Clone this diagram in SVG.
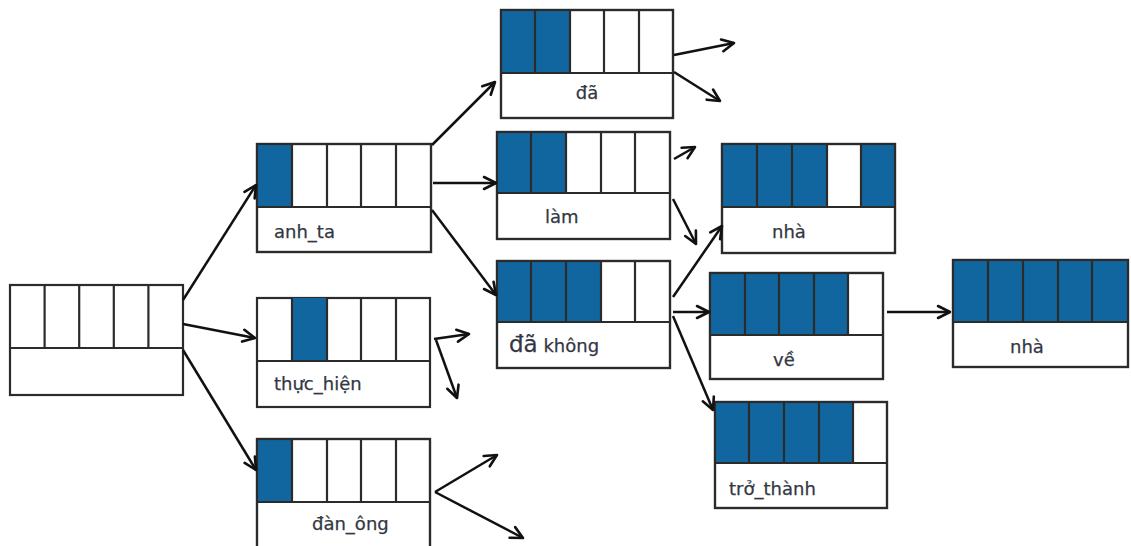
<svg xmlns="http://www.w3.org/2000/svg" width="1131" height="546" viewBox="0 0 1131 546">
  <style>
    .box { fill: #ffffff; stroke: #2b2b2b; stroke-width: 2.2; }
    .frame { fill: none; stroke: #2b2b2b; stroke-width: 2.2; }
    .on { fill: #11669f; }
    .sep { stroke: #2b2b2b; stroke-width: 2.2; fill: none; }
    .lbl { font-family: "DejaVu Sans", "Liberation Sans", sans-serif; font-size: 18px; fill: #333744; stroke: #333744; stroke-width: 0.25; }
    .big { font-size: 23px; }
    .edge { stroke: #111111; stroke-width: 2.5; fill: none; marker-end: url(#arrow); }
  </style>
  <defs>
    <marker id="arrow" viewBox="0 0 16 16" refX="14" refY="8" markerWidth="16" markerHeight="16" markerUnits="userSpaceOnUse" orient="auto">
      <path d="M2,2 L14,8 L2,14" fill="none" stroke="#111111" stroke-width="2.6" stroke-linecap="round" stroke-linejoin="round"/>
    </marker>
  </defs>
  <rect width="1131" height="546" fill="#ffffff"/>

  <!-- root record -->
  <g id="root">
    <rect class="box" x="10" y="285" width="173" height="110"/>
    <path class="sep" d="M10,348 H183 M44.6,285 V348 M79.2,285 V348 M113.8,285 V348 M148.4,285 V348"/>
  </g>

  <g id="anh_ta">
    <rect class="box" x="257" y="144" width="174" height="108"/>
    <rect class="on" x="257" y="144" width="35" height="63"/>
    <path class="sep" d="M257,207 H431 M292,144 V207 M327,144 V207 M361,144 V207 M396,144 V207"/>
    <rect class="frame" x="257" y="144" width="174" height="108"/>
    <text class="lbl" x="274" y="238">anh_ta</text>
  </g>

  <g id="thuc_hien">
    <rect class="box" x="257" y="298" width="173" height="109"/>
    <rect class="on" x="292" y="298" width="35" height="63"/>
    <path class="sep" d="M257,361 H430 M292,298 V361 M327,298 V361 M361,298 V361 M396,298 V361"/>
    <text class="lbl" x="274" y="390">thực_hiện</text>
  </g>

  <g id="dan_ong">
    <rect class="box" x="257" y="439" width="173" height="112"/>
    <rect class="on" x="257" y="439" width="35" height="63"/>
    <path class="sep" d="M257,502 H430 M292,439 V502 M327,439 V502 M361,439 V502 M396,439 V502"/>
    <rect class="frame" x="257" y="439" width="173" height="112"/>
    <text class="lbl" x="312" y="530">đàn_ông</text>
  </g>

  <g id="da">
    <rect class="box" x="501" y="10" width="172" height="108"/>
    <rect class="on" x="501" y="10" width="69" height="63"/>
    <path class="sep" d="M501,73 H673 M535,10 V73 M570,10 V73 M604,10 V73 M639,10 V73"/>
    <rect class="frame" x="501" y="10" width="172" height="108"/>
    <text class="lbl" x="587" y="99" text-anchor="middle">đã</text>
  </g>

  <g id="lam">
    <rect class="box" x="497" y="132" width="173" height="107"/>
    <rect class="on" x="497" y="132" width="69" height="61"/>
    <path class="sep" d="M497,193 H670 M531,132 V193 M566,132 V193 M601,132 V193 M635,132 V193"/>
    <rect class="frame" x="497" y="132" width="173" height="107"/>
    <text class="lbl" x="545" y="223">làm</text>
  </g>

  <g id="da_khong">
    <rect class="box" x="497" y="261" width="173" height="107"/>
    <rect class="on" x="497" y="261" width="104" height="61"/>
    <path class="sep" d="M497,322 H670 M531,261 V322 M566,261 V322 M601,261 V322 M635,261 V322"/>
    <rect class="frame" x="497" y="261" width="173" height="107"/>
    <text class="lbl" x="509" y="352"><tspan class="big">đã</tspan> không</text>
  </g>

  <g id="nha_1">
    <rect class="box" x="722" y="144" width="173" height="109"/>
    <rect class="on" x="722" y="144" width="105" height="63"/>
    <rect class="on" x="861" y="144" width="34" height="63"/>
    <path class="sep" d="M722,207 H895 M757,144 V207 M792,144 V207 M827,144 V207 M861,144 V207"/>
    <rect class="frame" x="722" y="144" width="173" height="109"/>
    <text class="lbl" x="772" y="238">nhà</text>
  </g>

  <g id="ve">
    <rect class="box" x="710" y="273" width="173" height="106"/>
    <rect class="on" x="710" y="273" width="138" height="62"/>
    <path class="sep" d="M710,335 H883 M745,273 V335 M779,273 V335 M814,273 V335 M848,273 V335"/>
    <rect class="frame" x="710" y="273" width="173" height="106"/>
    <text class="lbl" x="773" y="366">về</text>
  </g>

  <g id="tro_thanh">
    <rect class="box" x="715" y="402" width="172" height="106"/>
    <rect class="on" x="715" y="402" width="138" height="61"/>
    <path class="sep" d="M715,463 H887 M749,402 V463 M784,402 V463 M819,402 V463 M853,402 V463"/>
    <rect class="frame" x="715" y="402" width="172" height="106"/>
    <text class="lbl" x="729" y="495">trở_thành</text>
  </g>

  <g id="nha_2">
    <rect class="box" x="953" y="260" width="175" height="107"/>
    <rect class="on" x="953" y="260" width="175" height="62"/>
    <path class="sep" d="M953,322 H1128 M988,260 V322 M1023,260 V322 M1058,260 V322 M1092,260 V322"/>
    <rect class="frame" x="953" y="260" width="175" height="107"/>
    <text class="lbl" x="1010" y="353">nhà</text>
  </g>

  <!-- connectors -->
  <g id="edges">
    <path class="edge" d="M183,300 L256,185"/>
    <path class="edge" d="M183,324 L255,338"/>
    <path class="edge" d="M183,350 L256,470"/>
    <path class="edge" d="M432,145 L495,82"/>
    <path class="edge" d="M433,183 L496,183"/>
    <path class="edge" d="M432,210 L496,295"/>
    <path class="edge" d="M434,339 L469,334"/>
    <path class="edge" d="M436,340 L457,398"/>
    <path class="edge" d="M435,492 L497,455"/>
    <path class="edge" d="M435,492 L523,538"/>
    <path class="edge" d="M674,55 L734,43"/>
    <path class="edge" d="M674,72 L720,101"/>
    <path class="edge" d="M674,159 L695,147"/>
    <path class="edge" d="M673,199 L696,244"/>
    <path class="edge" d="M673,297 L722,226"/>
    <path class="edge" d="M673,312 L709,312"/>
    <path class="edge" d="M673,316 L713,410"/>
    <path class="edge" d="M887,312 L950,312"/>
  </g>
</svg>
